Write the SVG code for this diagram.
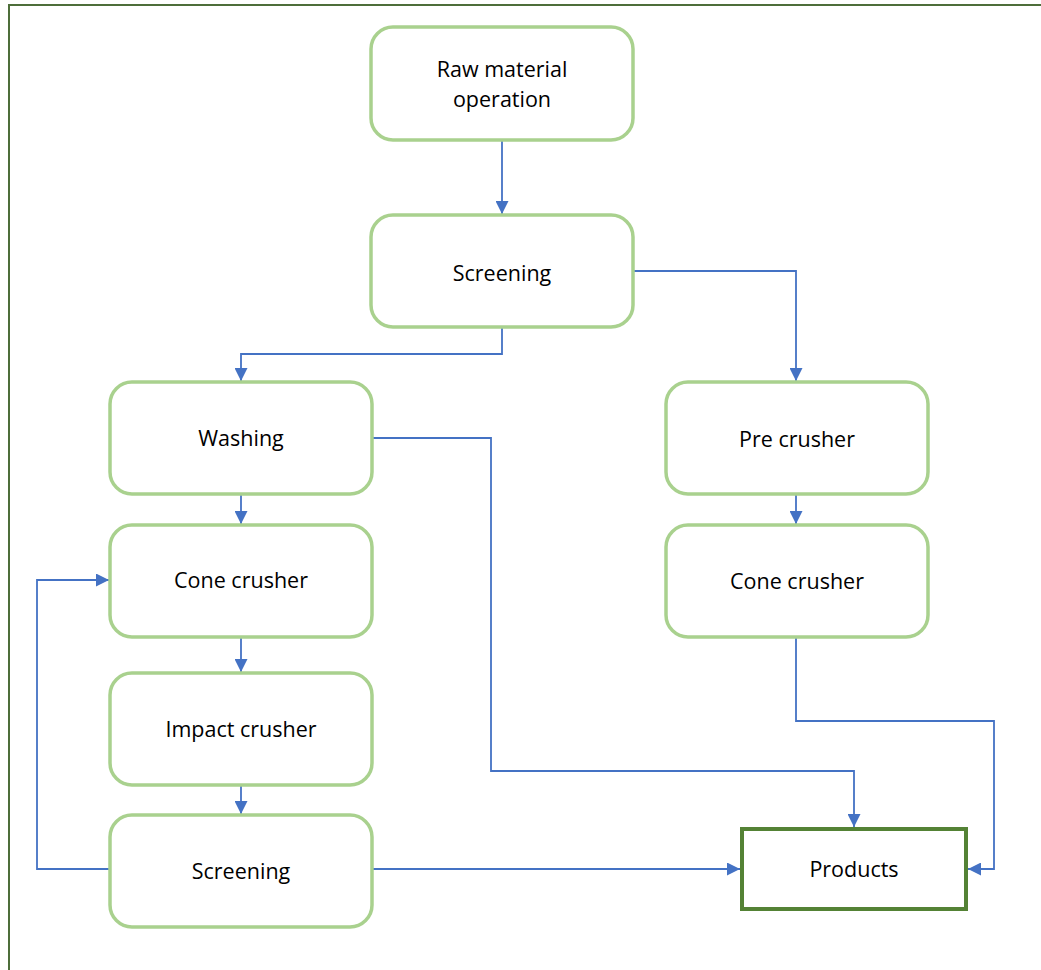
<svg xmlns="http://www.w3.org/2000/svg" width="1041" height="970" viewBox="0 0 1041 970">
<style>
.node{fill:#fff;stroke:#a9d18e;stroke-width:3.5}
.prod{fill:#fff;stroke:#548235;stroke-width:4}
.lbl{font-family:"Open Sans","Noto Sans",sans-serif;font-size:21.5px;fill:#000;text-anchor:middle;dominant-baseline:central}
.conn{fill:none;stroke:#4472c4;stroke-width:1.8}
</style>
<defs>
<marker id="arr" viewBox="0 0 10 10" refX="10" refY="5" markerWidth="13" markerHeight="13" markerUnits="userSpaceOnUse" orient="auto">
<path d="M0,0 L10,5 L0,10 z" fill="#4472c4"/>
</marker>
</defs>
<rect width="1041" height="970" fill="#fff"/>
<path d="M9,970 L9,5 L1041,5" fill="none" stroke="#4e6e3a" stroke-width="2"/>
<g id="connectors">
<path class="conn" marker-end="url(#arr)" d="M502,140 L502,214"/>
<path class="conn" marker-end="url(#arr)" d="M633,271 L796,271 L796,381"/>
<path class="conn" marker-end="url(#arr)" d="M502,327 L502,354 L241,354 L241,381"/>
<path class="conn" marker-end="url(#arr)" d="M372,438 L491,438 L491,771 L854,771 L854,827"/>
<path class="conn" marker-end="url(#arr)" d="M241,494 L241,524"/>
<path class="conn" marker-end="url(#arr)" d="M796,494 L796,524"/>
<path class="conn" marker-end="url(#arr)" d="M796,637 L796,721 L994,721 L994,869 L968,869"/>
<path class="conn" marker-end="url(#arr)" d="M241,637 L241,672"/>
<path class="conn" marker-end="url(#arr)" d="M241,785 L241,814"/>
<path class="conn" marker-end="url(#arr)" d="M110,869 L37,869 L37,580 L109,580"/>
<path class="conn" marker-end="url(#arr)" d="M372,869 L740,869"/>
</g>
<g id="raw"><rect class="node" x="371" y="27" width="262" height="113" rx="22"/><text class="lbl" x="502" y="68">Raw material</text><text class="lbl" x="502" y="98">operation</text></g>
<g id="screening1"><rect class="node" x="371" y="215" width="262" height="112" rx="22"/><text class="lbl" x="502" y="272">Screening</text></g>
<g id="washing"><rect class="node" x="110" y="382" width="262" height="112" rx="22"/><text class="lbl" x="241" y="437">Washing</text></g>
<g id="precrusher"><rect class="node" x="666" y="382" width="262" height="112" rx="22"/><text class="lbl" x="797" y="438">Pre crusher</text></g>
<g id="cone1"><rect class="node" x="110" y="525" width="262" height="112" rx="22"/><text class="lbl" x="241" y="579">Cone crusher</text></g>
<g id="cone2"><rect class="node" x="666" y="525" width="262" height="112" rx="22"/><text class="lbl" x="797" y="580">Cone crusher</text></g>
<g id="impact"><rect class="node" x="110" y="673" width="262" height="112" rx="22"/><text class="lbl" x="241" y="728">Impact crusher</text></g>
<g id="screening2"><rect class="node" x="110" y="815" width="262" height="112" rx="22"/><text class="lbl" x="241" y="870">Screening</text></g>
<g id="products"><rect class="prod" x="742" y="829" width="224" height="80"/><text class="lbl" x="854" y="868">Products</text></g>
</svg>
